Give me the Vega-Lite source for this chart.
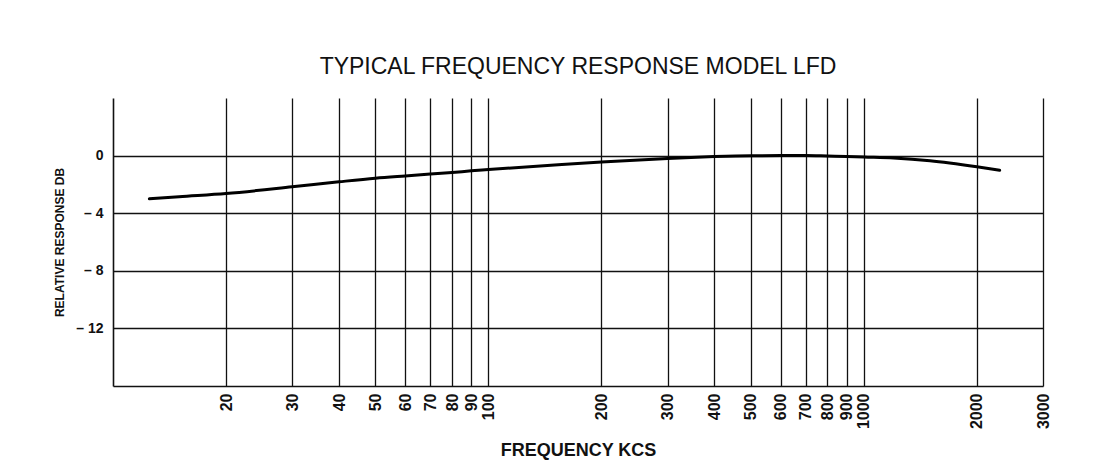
{
  "$schema": "https://vega.github.io/schema/vega-lite/v6.json",
  "autosize": {"type": "none"},
  "padding": {"left": 113, "top": 98, "right": 53, "bottom": 87},
  "width": 930,
  "height": 288,
  "background": "white",
  "title": {
    "text": "TYPICAL FREQUENCY RESPONSE MODEL LFD",
    "font": "Liberation Sans",
    "fontSize": 23,
    "fontWeight": "normal",
    "color": "#111",
    "anchor": "middle",
    "offset": 19
  },
  "config": {
    "view": {"stroke": null},
    "font": "Liberation Sans"
  },
  "data": {
    "values": [
      {"freq": 12.5, "db": -3.0},
      {"freq": 15, "db": -2.85},
      {"freq": 20, "db": -2.63},
      {"freq": 30, "db": -2.17},
      {"freq": 40, "db": -1.82},
      {"freq": 50, "db": -1.57},
      {"freq": 60, "db": -1.41},
      {"freq": 70, "db": -1.28},
      {"freq": 80, "db": -1.17},
      {"freq": 90, "db": -1.06},
      {"freq": 100, "db": -0.97},
      {"freq": 150, "db": -0.65},
      {"freq": 200, "db": -0.44},
      {"freq": 300, "db": -0.2},
      {"freq": 400, "db": -0.07},
      {"freq": 500, "db": -0.01},
      {"freq": 600, "db": 0},
      {"freq": 700, "db": 0},
      {"freq": 800, "db": -0.03},
      {"freq": 900, "db": -0.06},
      {"freq": 1000, "db": -0.1},
      {"freq": 1200, "db": -0.17},
      {"freq": 1500, "db": -0.36},
      {"freq": 2000, "db": -0.78},
      {"freq": 2300, "db": -1.02}
    ]
  },
  "mark": {"type": "line", "color": "black", "strokeWidth": 3, "interpolate": "monotone", "strokeCap": "round"},
  "encoding": {
    "x": {
      "field": "freq",
      "type": "quantitative",
      "scale": {"type": "log", "domain": [10, 3000], "nice": false},
      "axis": {
        "title": "FREQUENCY KCS",
        "titleFont": "Liberation Sans",
        "titleFontSize": 18,
        "titleFontWeight": "bold",
        "titleColor": "#111",
        "titlePadding": 13,
        "values": [20, 30, 40, 50, 60, 70, 80, 90, 100, 200, 300, 400, 500, 600, 700, 800, 900, 1000, 2000, 3000],
        "labelAngle": 270,
        "labelAlign": "right",
        "labelBaseline": "middle",
        "labelFont": "Liberation Sans",
        "labelFontSize": 16,
        "labelFontWeight": "bold",
        "labelColor": "#111",
        "labelPadding": 7,
        "labelOverlap": false,
        "labelFlush": false,
        "format": "d",
        "ticks": false,
        "grid": true,
        "gridColor": "#111",
        "gridWidth": 1.3,
        "gridOpacity": 1,
        "domainColor": "#111",
        "domainWidth": 1.6
      }
    },
    "y": {
      "field": "db",
      "type": "quantitative",
      "scale": {"domain": [-16, 4], "nice": false},
      "axis": {
        "title": "RELATIVE RESPONSE DB",
        "titleFont": "Liberation Sans",
        "titleFontSize": 12,
        "titleFontWeight": "bold",
        "titleColor": "#111",
        "titlePadding": 9,
        "values": [0, -4, -8, -12],
        "labelExpr": "datum.value < 0 ? '\u2013 ' + abs(datum.value) : '' + datum.value",
        "labelFont": "Liberation Sans",
        "labelFontSize": 14,
        "labelFontWeight": "bold",
        "labelColor": "#111",
        "labelPadding": 10,
        "ticks": false,
        "grid": true,
        "gridColor": "#111",
        "gridWidth": 1.3,
        "gridOpacity": 1,
        "domainColor": "#111",
        "domainWidth": 1.6
      }
    }
  }
}
